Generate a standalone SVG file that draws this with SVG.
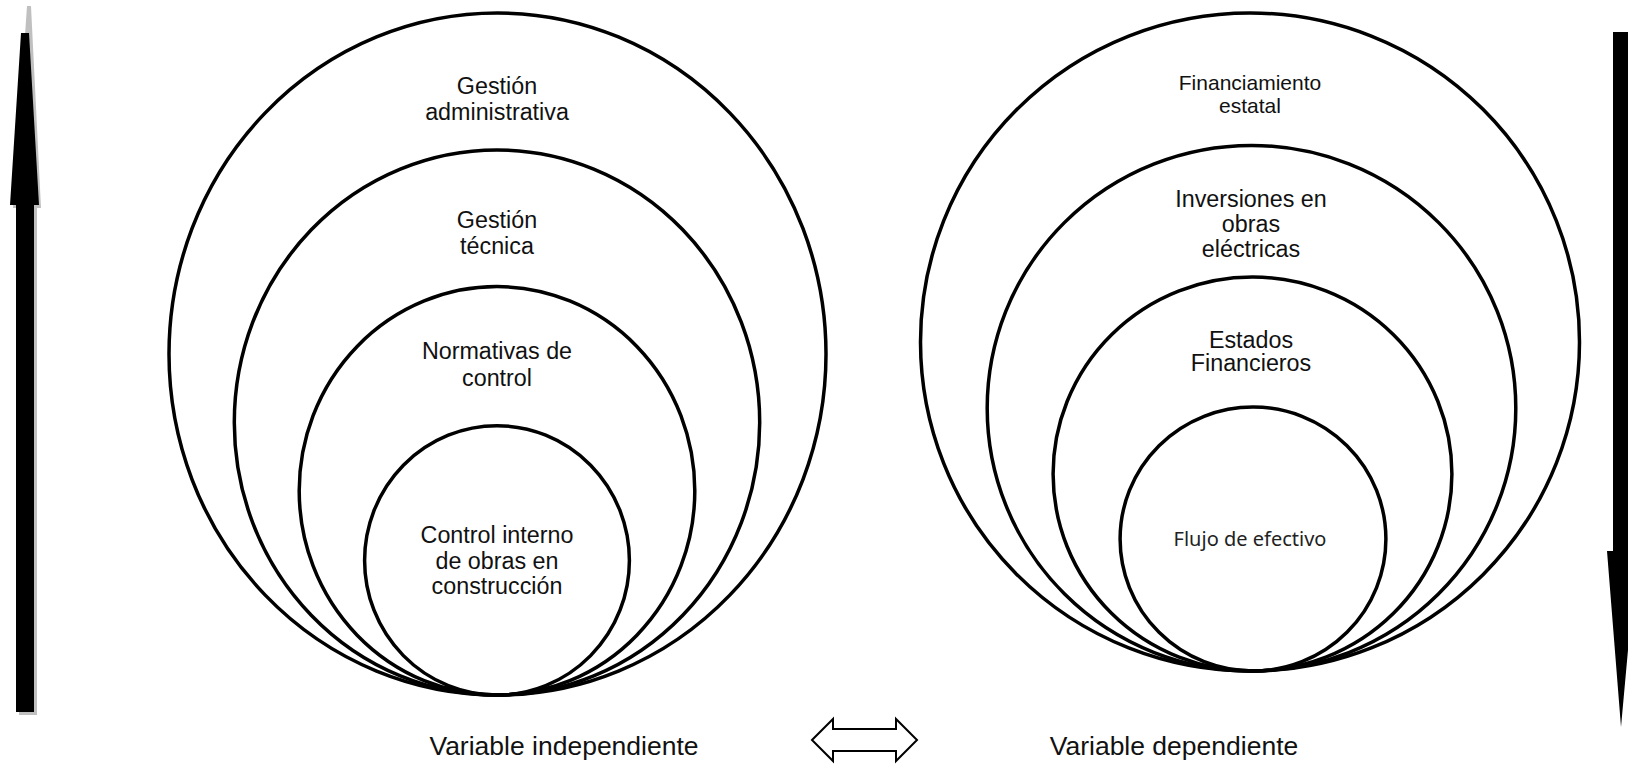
<svg xmlns="http://www.w3.org/2000/svg" width="1628" height="765" viewBox="0 0 1628 765">
  <style>
    .ring { fill: none; stroke: #000; stroke-width: 3.5; }
    .lbl { font-family: "Liberation Sans", Arial, sans-serif; font-size: 23.3px; fill: #111; text-anchor: middle; }
    .lbl-sm { font-family: "Liberation Sans", Arial, sans-serif; font-size: 21px; fill: #111; text-anchor: middle; }
    .lbl-alt { font-family: "Noto Sans", "Open Sans", sans-serif; font-size: 20px; fill: #222; text-anchor: middle; }
    .caption { font-family: "Liberation Sans", Arial, sans-serif; font-size: 26.5px; fill: #111; text-anchor: middle; }
  </style>
  <rect width="1628" height="765" fill="#fff"/>

  <!-- vertical arrows at the edges -->
  <g id="arrow-up">
    <polygon points="27,6 31,6 41,208 37,208 37,715 19,715 19,208 13,208" fill="#c0c0c0"/>
    <polygon points="21,33 29,33 39,205 34,205 34,712 16,712 16,205 10,205" fill="#000"/>
  </g>
  <g id="arrow-down">
    <polygon points="1613,32 1632,32 1632,551 1637,551 1621,727 1607,551 1613,551" fill="#000"/>
  </g>

  <!-- independent variable: nested rings -->
  <g id="gestion-administrativa">
    <ellipse class="ring" cx="497.5" cy="354" rx="328.5" ry="341"/>
    <text class="lbl" x="497" y="94">Gestión</text>
    <text class="lbl" x="497" y="120">administrativa</text>
  </g>
  <g id="gestion-tecnica">
    <ellipse class="ring" cx="497" cy="422.5" rx="262.7" ry="272.5"/>
    <text class="lbl" x="497" y="228">Gestión</text>
    <text class="lbl" x="497" y="254">técnica</text>
  </g>
  <g id="normativas-control">
    <ellipse class="ring" cx="497" cy="490.8" rx="197.8" ry="204.2"/>
    <text class="lbl" x="497" y="359">Normativas de</text>
    <text class="lbl" x="497" y="386">control</text>
  </g>
  <g id="control-interno">
    <ellipse class="ring" cx="497" cy="560.4" rx="132.4" ry="134.7"/>
    <text class="lbl" x="497" y="543">Control interno</text>
    <text class="lbl" x="497" y="569">de obras en</text>
    <text class="lbl" x="497" y="594">construcción</text>
  </g>

  <!-- dependent variable: nested rings -->
  <g id="financiamiento-estatal">
    <ellipse class="ring" cx="1250" cy="342" rx="329.5" ry="329"/>
    <text class="lbl-sm" x="1250" y="90">Financiamiento</text>
    <text class="lbl-sm" x="1250" y="113">estatal</text>
  </g>
  <g id="inversiones-obras">
    <ellipse class="ring" cx="1251.5" cy="408.2" rx="264.3" ry="262.8"/>
    <text class="lbl" x="1251" y="207">Inversiones en</text>
    <text class="lbl" x="1251" y="232">obras</text>
    <text class="lbl" x="1251" y="257">eléctricas</text>
  </g>
  <g id="estados-financieros">
    <ellipse class="ring" cx="1252.5" cy="474" rx="199.4" ry="197"/>
    <text class="lbl" x="1251" y="348">Estados</text>
    <text class="lbl" x="1251" y="371">Financieros</text>
  </g>
  <g id="flujo-efectivo">
    <ellipse class="ring" cx="1253" cy="539" rx="132.9" ry="132"/>
    <text class="lbl-alt" x="1250" y="546">Flujo de efectivo</text>
  </g>

  <!-- relation between the two variables -->
  <g id="connectors">
    <polygon points="812,740 833,719 833,729 896,729 896,719 917,740 896,761 896,751 833,751 833,761" fill="#fff" stroke="#000" stroke-width="2" stroke-linejoin="miter"/>
  </g>

  <g id="captions">
    <text class="caption" x="564" y="755">Variable independiente</text>
    <text class="caption" x="1174" y="755">Variable dependiente</text>
  </g>
</svg>
